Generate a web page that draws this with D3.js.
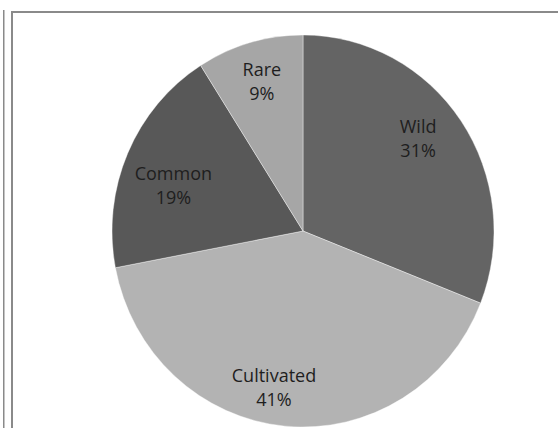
<!DOCTYPE html>
<html>
<head>
<meta charset="utf-8">
<script src="https://cdn.jsdelivr.net/npm/d3@7"></script>
<style>
  html, body { margin: 0; padding: 0; background: #fff; }
  svg { display: block; }
</style>
</head>
<body>
<svg id="chart" width="558" height="428"></svg>
<script>
// Share of plants by status
const categories = ["Wild", "Cultivated", "Common", "Rare"];
const shares = [31, 41, 19, 9];
const percentLabels = ["31%", "41%", "19%", "9%"];
const sliceColors = ["#646464", "#b3b3b3", "#585858", "#a6a6a6"];

// Label placement tweaks (angle offset in degrees, radius fraction)
const labelLayout = {
  Wild:       { da: -5.4, rf: 0.762 },
  Cultivated: { da: 5.3,  rf: 0.798 },
  Common:     { da: -2.9, rf: 0.706 },
  Rare:       { da: 1.1,  rf: 0.805 }
};

const svg = d3.select("#chart");
const W = 558, H = 428;

// frame lines
svg.append("line")
  .attr("x1", 3.75).attr("x2", 3.75).attr("y1", 10).attr("y2", H)
  .attr("stroke", "#8a8a8a").attr("stroke-width", 1.5);
svg.append("rect")
  .attr("x", 12).attr("y", 12).attr("width", W + 20).attr("height", H + 20)
  .attr("fill", "#fff").attr("stroke", "#8a8a8a").attr("stroke-width", 2);

const cx = 303, cy = 231, r = 196, rx = 191;
const g = svg.append("g").attr("transform", `translate(${cx},${cy})`);

const data = categories.map((c, i) => ({ name: c, value: shares[i], label: percentLabels[i], color: sliceColors[i] }));

const pie = d3.pie().value(d => d.value).sort(null);
const arc = d3.arc().innerRadius(0).outerRadius(r);
const arcs = pie(data);

// slices, slightly narrower horizontally
g.append("g")
  .attr("transform", `scale(${rx / r},1)`)
  .selectAll("path.slice")
  .data(arcs)
  .join("path")
  .attr("class", "slice")
  .attr("d", arc)
  .attr("fill", d => d.data.color)
  .attr("stroke", "#ffffff")
  .attr("stroke-width", 0.4);

const labels = g.selectAll("text.lbl")
  .data(arcs)
  .join("text")
  .attr("class", "lbl")
  .attr("text-anchor", "middle")
  .attr("font-family", "'Open Sans', 'Liberation Sans', sans-serif")
  .attr("font-size", 18)
  .attr("fill", "#1e1e1e")
  .attr("transform", d => {
    const lay = labelLayout[d.data.name];
    const a = (d.startAngle + d.endAngle) / 2 + lay.da * Math.PI / 180;
    const rr = r * lay.rf;
    return `translate(${rr * Math.sin(a)},${-rr * Math.cos(a)})`;
  });

labels.append("tspan").attr("x", 0).attr("dy", "-0.15em").text(d => d.data.name);
labels.append("tspan").attr("x", 0).attr("dy", "1.35em").text(d => d.data.label);
</script>
</body>
</html>
